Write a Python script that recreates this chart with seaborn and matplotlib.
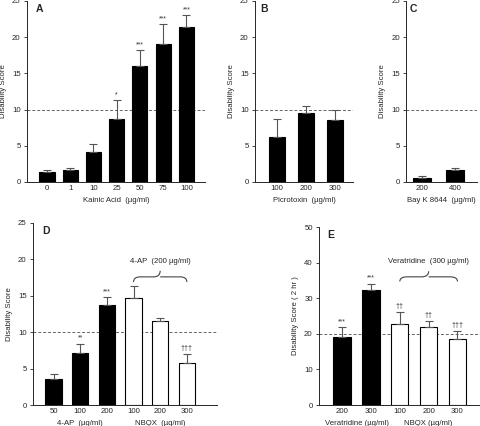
import numpy as np
import matplotlib
matplotlib.use("Agg")
import matplotlib.pyplot as plt
from matplotlib.path import Path
from matplotlib.patches import PathPatch
import seaborn as sns

# panel A - kainic acid
ka_dose = ["0", "1", "10", "25", "50", "75", "100"]
ka_mean = [1.4, 1.6, 4.1, 8.7, 16.0, 19.0, 21.4]
ka_err = [0.2, 0.3, 1.1, 2.6, 2.2, 2.8, 1.6]
ka_sig = ["", "", "", "*", "***", "***", "***"]

# panel B - picrotoxin
pic_dose = ["100", "200", "300"]
pic_mean = [6.2, 9.5, 8.5]
pic_err = [2.5, 1.0, 1.5]

# panel C - Bay K 8644
bay_dose = ["200", "400"]
bay_mean = [0.6, 1.7]
bay_err = [0.25, 0.3]

# panel D - 4-AP and NBQX
d_dose = ["50", "100", "200", "100", "200", "300"]
d_group = ["drug", "drug", "drug", "nbqx", "nbqx", "nbqx"]
d_mean = [3.6, 7.2, 13.8, 14.7, 11.6, 5.8]
d_err = [0.7, 1.2, 1.0, 1.6, 0.4, 1.2]
d_sig = ["", "**", "***", "", "", "\u2020\u2020\u2020"]

# panel E - veratridine and NBQX
e_dose = ["200", "300", "100", "200", "300"]
e_group = ["drug", "drug", "nbqx", "nbqx", "nbqx"]
e_mean = [19.1, 32.2, 22.7, 22.0, 18.6]
e_err = [2.7, 1.9, 3.3, 1.5, 2.1]
e_sig = ["***", "***", "\u2020\u2020", "\u2020\u2020", "\u2020\u2020\u2020"]

sns.set_style("ticks")
plt.rcParams["font.family"] = ["Liberation Sans", "DejaVu Sans"]
FS = 5.6

fig = plt.figure(figsize=(4.8, 4.26), dpi=100)
W, H = 480, 426


def make_ax(l, r, t, b):
    return fig.add_axes([l / W, 1 - b / H, (r - l) / W, (b - t) / H])


def draw_panel(ax, labels, mean, err, groups, width, xlim, ymax, step, ref, letter, ylabel, sig=None):
    n = len(mean)
    x = list(range(n))
    sns.barplot(x=x, y=mean, hue=groups, palette={"drug": "black", "nbqx": "white"},
                dodge=False, width=width, edgecolor="black", linewidth=0.8,
                legend=False, ax=ax, zorder=2)
    ax.errorbar(x, mean, yerr=[np.zeros(n), err], fmt="none", ecolor="#555555",
                elinewidth=0.8, capsize=2.8, capthick=0.8, zorder=3)
    ax.axhline(ref, color="#666666", lw=0.7, ls=(0, (3, 2)), zorder=1)
    ax.set_xlim(*xlim)
    ax.set_ylim(0, ymax)
    ax.set_yticks(np.arange(0, ymax + 1, step))
    ax.set_xticks(x)
    ax.set_xticklabels(labels)
    ax.tick_params(axis="x", length=0, pad=2.5, labelsize=FS)
    ax.tick_params(axis="y", length=2.5, width=0.6, pad=2, labelsize=FS)
    for s in ["top", "right"]:
        ax.spines[s].set_visible(False)
    for s in ["left", "bottom"]:
        ax.spines[s].set_linewidth(0.7)
    ax.set_ylabel(ylabel, fontsize=FS, labelpad=4)
    ax.set_xlabel("")
    ax.text(0.05, 0.985, letter, transform=ax.transAxes, fontsize=7.5, fontweight="bold",
            va="top", ha="left")
    if sig:
        for i in range(n):
            if sig[i]:
                ax.text(i, mean[i] + err[i] + ymax * 0.012, sig[i], ha="center", va="bottom",
                        fontsize=5, color="#333333")


def brace(ax, x0, x1, y, h):
    xm = (x0 + x1) / 2
    verts = [(x0, y - h * 0.5), (x0, y), (x0 + 0.25, y),
             (xm - 0.25, y), (xm, y), (xm, y + h * 0.6),
             (xm, y), (xm + 0.25, y),
             (x1 - 0.25, y), (x1, y), (x1, y - h * 0.5)]
    codes = [Path.MOVETO, Path.CURVE3, Path.CURVE3,
             Path.LINETO, Path.CURVE3, Path.CURVE3,
             Path.MOVETO, Path.LINETO,
             Path.LINETO, Path.CURVE3, Path.CURVE3]
    ax.add_patch(PathPatch(Path(verts, codes), fill=False, lw=0.8, edgecolor="#444444"))


# A
axA = make_ax(27, 205, 1, 182)
draw_panel(axA, ka_dose, ka_mean, ka_err, ["drug"] * 7, 0.65, (-0.86, 6.8), 25, 5, 10,
           "A", "Disability Score", ka_sig)
axA.set_xlabel("Kainic Acid  (\u00b5g/ml)", fontsize=FS, labelpad=3)

# B
axB = make_ax(255, 353, 1, 182)
draw_panel(axB, pic_dose, pic_mean, pic_err, ["drug"] * 3, 0.55, (-0.76, 2.62), 25, 5, 10,
           "B", "Disability Score")
axB.set_xlabel("Picrotoxin  (\u00b5g/ml)", fontsize=FS, labelpad=3)

# C
axC = make_ax(406, 477, 1, 182)
draw_panel(axC, bay_dose, bay_mean, bay_err, ["drug"] * 2, 0.54, (-0.5, 1.68), 25, 5, 10,
           "C", "Disability Score")
axC.set_xlabel("Bay K 8644  (\u00b5g/ml)", fontsize=FS, labelpad=3)

# D
axD = make_ax(33, 217, 223, 405)
draw_panel(axD, d_dose, d_mean, d_err, d_group, 0.62, (-0.77, 6.13), 25, 5, 10,
           "D", "Disability Score", d_sig)
axD.text(1, -0.085, "4-AP  (\u00b5g/ml)", transform=axD.get_xaxis_transform(),
         ha="center", va="top", fontsize=FS)
axD.text(4, -0.085, "NBQX  (\u00b5g/ml)", transform=axD.get_xaxis_transform(),
         ha="center", va="top", fontsize=FS)
brace(axD, 3, 5, 17.6, 1.4)
axD.text(4, 19.2, "4-AP  (200 \u00b5g/ml)", ha="center", va="bottom", fontsize=FS)

# E
axE = make_ax(319, 480, 227, 405)
draw_panel(axE, e_dose, e_mean, e_err, e_group, 0.6, (-0.8, 4.78), 50, 10, 20,
           "E", "Disability Score ( 2 hr )", e_sig)
axE.text(0.5, -0.085, "Veratridine (\u00b5g/ml)", transform=axE.get_xaxis_transform(),
         ha="center", va="top", fontsize=FS)
axE.text(3, -0.085, "NBQX (\u00b5g/ml)", transform=axE.get_xaxis_transform(),
         ha="center", va="top", fontsize=FS)
brace(axE, 2, 4, 36.0, 2.6)
axE.text(3, 39.3, "Veratridine  (300 \u00b5g/ml)", ha="center", va="bottom", fontsize=FS)

fig.savefig("out.png", dpi=100)
